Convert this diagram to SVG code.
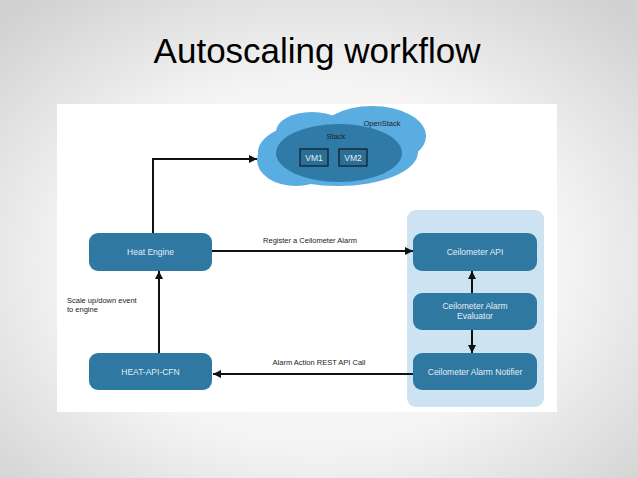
<svg xmlns="http://www.w3.org/2000/svg" width="638" height="478" viewBox="0 0 638 478">
<defs>
<radialGradient id="bg" cx="50%" cy="55%" r="70%">
<stop offset="0" stop-color="#ffffff"/>
<stop offset="0.55" stop-color="#f4f4f4"/>
<stop offset="1" stop-color="#d2d2d2"/>
</radialGradient>
<marker id="ah2" viewBox="0 0 10 10" refX="10" refY="5" markerWidth="8" markerHeight="8" markerUnits="userSpaceOnUse" orient="auto">
<path d="M0,0 L10,5 L0,10 z" fill="#111"/>
</marker>
</defs>
<style>
.node{fill:#2e78a1}
.nt{font-family:"Liberation Sans",Arial,sans-serif;font-size:8.5px;fill:#e4eef5;text-anchor:middle}
.lbl{font-family:"Liberation Sans",Arial,sans-serif;font-size:7.5px;fill:#222}
.con{stroke:#111;stroke-width:2;fill:none;marker-end:url(#ah2)}
.vm{fill:#2b6f97;stroke:#111a22;stroke-width:1.2}
</style>
<rect width="638" height="478" fill="url(#bg)"/>
<text x="317" y="63" font-family="'Liberation Sans',Arial,sans-serif" font-size="35" text-anchor="middle" fill="#000">Autoscaling workflow</text>
<rect x="57" y="104" width="500" height="308" fill="#ffffff"/>

<g id="openstack">
<g fill="#5aade0">
<ellipse cx="338" cy="152" rx="80" ry="34"/>
<ellipse cx="372" cy="136" rx="54" ry="30"/>
<ellipse cx="296" cy="160" rx="39" ry="26"/>
<ellipse cx="312" cy="132" rx="36" ry="20"/>
</g>
<text x="382" y="126" class="lbl" text-anchor="middle">OpenStack</text>
</g>
<g id="stack">
<ellipse cx="339" cy="153" rx="63" ry="29" fill="#2f7aa6"/>
<text x="336" y="139" class="lbl" text-anchor="middle">Stack</text>
</g>
<g id="vm1">
<rect x="300" y="149" width="28" height="17" class="vm"/>
<text x="314" y="160.5" class="nt" font-size="7.5">VM1</text>
</g>
<g id="vm2">
<rect x="339" y="149" width="28" height="17" class="vm"/>
<text x="353" y="160.5" class="nt" font-size="7.5">VM2</text>
</g>

<g id="ceilometer-panel">
<rect x="407" y="210" width="137" height="197" rx="9" fill="#cde3f1"/>
</g>

<g id="heat-engine">
<rect x="89" y="233" width="123" height="38" rx="9" class="node"/>
<text x="150.5" y="255" class="nt">Heat Engine</text>
</g>
<g id="heat-api-cfn">
<rect x="89" y="353" width="123" height="37" rx="9" class="node"/>
<text x="150.5" y="374.5" class="nt">HEAT-API-CFN</text>
</g>
<g id="ceilometer-api">
<rect x="413" y="233" width="124" height="38" rx="9" class="node"/>
<text x="475" y="255" class="nt">Ceilometer API</text>
</g>
<g id="ceilometer-evaluator">
<rect x="413" y="293" width="124" height="37" rx="9" class="node"/>
<text x="475" y="309" class="nt">Ceilometer Alarm</text>
<text x="475" y="319" class="nt">Evaluator</text>
</g>
<g id="ceilometer-notifier">
<rect x="413" y="353" width="124" height="37" rx="9" class="node"/>
<text x="475" y="374.5" class="nt">Ceilometer Alarm Notifier</text>
</g>

<g id="connectors">
<path d="M153,233 V159 H257" class="con"/>
<path d="M212,251 H413" class="con"/>
<path d="M413,374 H213" class="con"/>
<path d="M159,353 V271" class="con"/>
<path d="M472,293 V271" class="con"/>
<path d="M472,330 V353" class="con"/>
<text x="310" y="242.5" class="lbl" text-anchor="middle">Register a Ceilometer Alarm</text>
<text x="319" y="364.5" class="lbl" text-anchor="middle">Alarm Action REST API Call</text>
<text x="67" y="302.5" class="lbl">Scale up/down event</text>
<text x="67" y="311.5" class="lbl">to engine</text>
</g>
</svg>
